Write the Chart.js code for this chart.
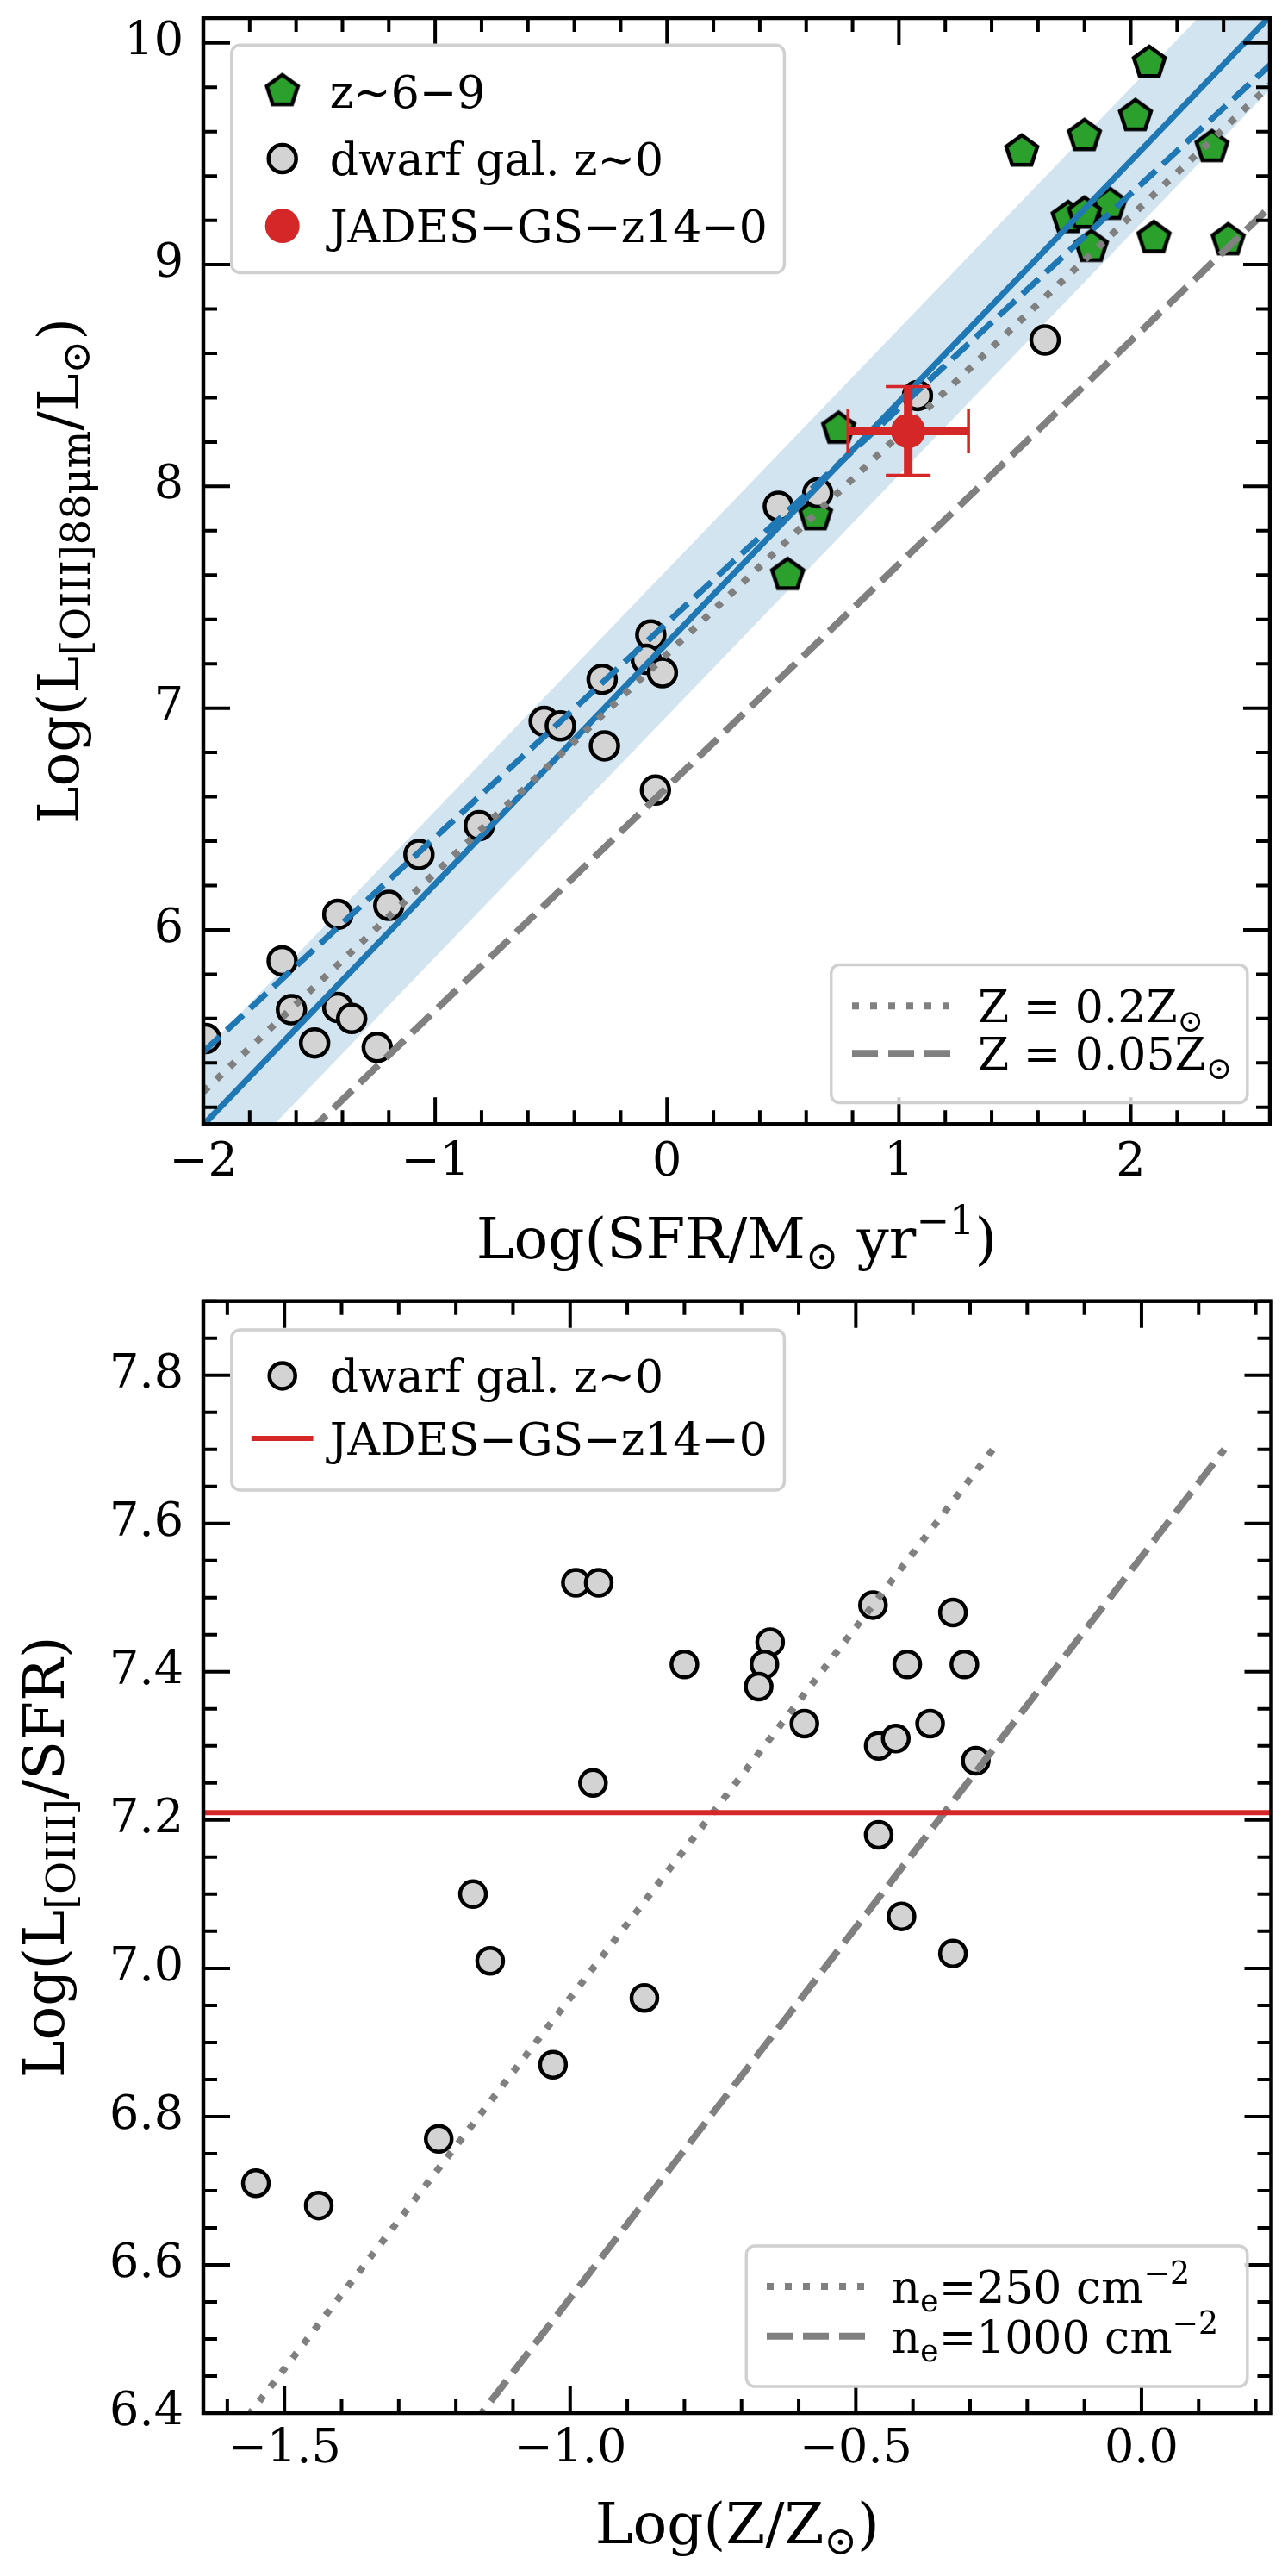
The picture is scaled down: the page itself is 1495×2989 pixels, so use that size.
<!DOCTYPE html>
<html>
<head>
<meta charset="utf-8">
<script src="https://cdn.jsdelivr.net/npm/chart.js@4.4.1/dist/chart.umd.min.js"></script>
<style>
  html, body { margin: 0; padding: 0; background: #fff; }
  #wrap { position: relative; width: 1495px; height: 2989px; }
  canvas { position: absolute; left: 0; }
</style>
</head>
<body>
<div id="wrap">
  <canvas id="top" width="1495" height="1480" style="top:0"></canvas>
  <canvas id="bot" width="1495" height="1509" style="top:1480px"></canvas>
</div>
<script>
// ---- top panel: L[OIII]88 vs SFR ----
const dwarfSfr   = [-1.99, -1.66, -1.62, -1.42, -1.52, -1.42, -1.36, -1.25, -1.20, -1.07, -0.81, -0.53, -0.46, -0.28, -0.27, -0.07, -0.09, -0.02, -0.05, 0.48, 0.65, 1.08, 1.63];
const dwarfLoiii = [5.51, 5.86, 5.64, 6.07, 5.49, 5.65, 5.60, 5.47, 6.11, 6.34, 6.47, 6.94, 6.92, 7.13, 6.83, 7.33, 7.22, 7.16, 6.63, 7.91, 7.97, 8.41, 8.66];
const hizSfr   = [2.08, 2.02, 1.80, 1.53, 2.35, 1.91, 1.73, 1.80, 1.83, 2.10, 2.42, 0.74, 0.64, 0.52];
const hizLoiii = [9.91, 9.67, 9.58, 9.51, 9.53, 9.27, 9.21, 9.23, 9.08, 9.12, 9.11, 8.26, 7.87, 7.60];
const jadesSfr = [1.04];
const jadesLoiii = [8.25];
const jadesSfrErr = [0.26];
const jadesLoiiiErr = [0.20];

// relations, end points read at the axis edges
const relSfr      = [-2, 2.6];
const fitLoiii    = [5.12, 10.12];
const fitUpper    = [5.45, 10.45];
const fitLower    = [4.79, 9.79];
const hizFitLoiii = [5.45, 9.90];
const z02Loiii    = [5.27, 9.81];
const z005Loiii   = [4.63, 9.26];

const sfrTicks   = [-2, -1, 0, 1, 2];
const loiiiTicks = [6, 7, 8, 9, 10];

// ---- bottom panel: L[OIII]/SFR vs Z ----
const dwarfZ     = [-0.99, -0.95, -0.96, -1.17, -1.14, -1.55, -1.44, -1.23, -1.03, -0.87, -0.42, -0.33, -0.80, -0.65, -0.66, -0.67, -0.59, -0.47, -0.33, -0.41, -0.31, -0.37, -0.46, -0.43, -0.29, -0.46];
const dwarfRatio = [7.52, 7.52, 7.25, 7.10, 7.01, 6.71, 6.68, 6.77, 6.87, 6.96, 7.07, 7.02, 7.41, 7.44, 7.41, 7.38, 7.33, 7.49, 7.48, 7.41, 7.41, 7.33, 7.30, 7.31, 7.28, 7.18];
const jadesRatio = [7.21, 7.21];
const jadesZspan = [-1.7, 0.3];
const ne250Z      = [-1.66, -0.26];
const ne250Ratio  = [6.30, 7.70];
const ne1000Z     = [-1.255, 0.145];
const ne1000Ratio = [6.30, 7.70];

const zTicks     = [-1.5, -1.0, -0.5, 0.0];
const ratioTicks = [6.4, 6.6, 6.8, 7.0, 7.2, 7.4, 7.6, 7.8];

const FAMILY = "'DejaVu Serif', serif";
const BLUE = '#1f77b4', GREEN = '#2ca02c', RED = '#d62728', GRAY = '#808080', LGRAY = '#d3d3d3';

const pts = (xs, ys) => xs.map((x, i) => ({ x, y: ys[i] }));
const minus = (v, d) => (v < -1e-9 ? '\u2212' : '') + Math.abs(v).toFixed(d);

function makePentagon() {
  const c = document.createElement('canvas');
  c.width = 48; c.height = 48;
  const g = c.getContext('2d');
  g.beginPath();
  for (let i = 0; i < 5; i++) {
    const a = -Math.PI / 2 + i * 2 * Math.PI / 5;
    const px = 24 + 19 * Math.cos(a), py = 24 + 19 * Math.sin(a);
    if (i) g.lineTo(px, py); else g.moveTo(px, py);
  }
  g.closePath();
  g.fillStyle = GREEN; g.fill();
  g.lineWidth = 4.5; g.strokeStyle = '#000'; g.stroke();
  return c;
}
const pentagon = makePentagon();

function drawRich(ctx, parts, x, y, size, weight, align) {
  const fontOf = p => `${weight} ${(p.sub || p.sup) ? size * 0.7 : size}px ${FAMILY}`;
  let w = 0;
  parts.forEach(p => { ctx.font = fontOf(p); w += ctx.measureText(p.t).width; });
  let cx = align === 'center' ? x - w / 2 : x;
  ctx.textAlign = 'left';
  ctx.textBaseline = 'alphabetic';
  parts.forEach(p => {
    ctx.font = fontOf(p);
    const dy = p.sub ? size * 0.2 : p.sup ? -size * 0.42 : 0;
    ctx.fillText(p.t, cx, y + dy);
    cx += ctx.measureText(p.t).width;
  });
}

// error bars under the marker
const errorBars = {
  id: 'errorBars',
  beforeDatasetDraw(chart, args) {
    const ds = chart.data.datasets[args.index];
    if (!ds.xErr) return;
    const { ctx, scales: { x, y } } = chart;
    ctx.save();
    ctx.strokeStyle = ds.backgroundColor;
    ds.data.forEach((p, i) => {
      const px = x.getPixelForValue(p.x), py = y.getPixelForValue(p.y);
      const x0 = x.getPixelForValue(p.x - ds.xErr[i]), x1 = x.getPixelForValue(p.x + ds.xErr[i]);
      const y0 = y.getPixelForValue(p.y - ds.yErr[i]), y1 = y.getPixelForValue(p.y + ds.yErr[i]);
      ctx.lineWidth = 10;
      ctx.beginPath();
      ctx.moveTo(x0, py); ctx.lineTo(x1, py);
      ctx.moveTo(px, y0); ctx.lineTo(px, y1);
      ctx.stroke();
      ctx.lineWidth = 3.5;
      ctx.beginPath();
      ctx.moveTo(x0, py - 26); ctx.lineTo(x0, py + 26);
      ctx.moveTo(x1, py - 26); ctx.lineTo(x1, py + 26);
      ctx.moveTo(px - 26, y0); ctx.lineTo(px + 26, y0);
      ctx.moveTo(px - 26, y1); ctx.lineTo(px + 26, y1);
      ctx.stroke();
    });
    ctx.restore();
  }
};

// box frame with inward ticks on all four sides
const frameTicks = {
  id: 'frameTicks',
  afterDraw(chart, args, o) {
    const { ctx, chartArea: a, scales: { x, y } } = chart;
    ctx.save();
    ctx.strokeStyle = '#000';
    ctx.lineWidth = 4;
    const each = (sc, step, fn) => {
      const i0 = Math.ceil(sc.min / step - 1e-6), i1 = Math.floor(sc.max / step + 1e-6);
      for (let i = i0; i <= i1; i++) fn(sc.getPixelForValue(i * step));
    };
    ctx.beginPath();
    [[o.xMinor, 16], [o.xMajor, 31]].forEach(([st, len]) => each(x, st, px => {
      ctx.moveTo(px, a.bottom); ctx.lineTo(px, a.bottom - len);
      ctx.moveTo(px, a.top); ctx.lineTo(px, a.top + len);
    }));
    [[o.yMinor, 16], [o.yMajor, 31]].forEach(([st, len]) => each(y, st, py => {
      ctx.moveTo(a.left, py); ctx.lineTo(a.left + len, py);
      ctx.moveTo(a.right, py); ctx.lineTo(a.right - len, py);
    }));
    ctx.stroke();
    ctx.lineWidth = 4.5;
    ctx.strokeRect(a.left, a.top, a.right - a.left, a.bottom - a.top);
    ctx.restore();
  }
};

const titles = {
  id: 'titles',
  afterDraw(chart, args, o) {
    const { ctx, chartArea: a } = chart;
    ctx.save();
    ctx.fillStyle = '#000';
    drawRich(ctx, o.x, (a.left + a.right) / 2, o.xBase, 66, 'normal', 'center');
    ctx.translate(o.yBase, (a.top + a.bottom) / 2);
    ctx.rotate(-Math.PI / 2);
    drawRich(ctx, o.y, 0, 0, 66, 'normal', 'center');
    ctx.restore();
  }
};

const boxLegend = {
  id: 'boxLegend',
  afterDraw(chart, args, o) {
    const { ctx, chartArea: a } = chart;
    o.boxes.forEach(L => {
      ctx.save();
      ctx.beginPath();
      ctx.roundRect(a.left + L.x, a.top + L.y, L.w, L.h, 10);
      ctx.fillStyle = 'rgba(255,255,255,0.8)';
      ctx.fill();
      ctx.lineWidth = 3.5;
      ctx.strokeStyle = '#d0d0d0';
      ctx.stroke();
      L.items.forEach(it => {
        const ds = chart.data.datasets[it.ds];
        const ry = a.top + it.y;
        if (it.kind === 'line') {
          ctx.beginPath();
          ctx.setLineDash(ds.borderDash || []);
          ctx.lineWidth = ds.borderWidth;
          ctx.strokeStyle = ds.borderColor;
          ctx.moveTo(a.left + L.lineX[0], ry);
          ctx.lineTo(a.left + L.lineX[1], ry);
          ctx.stroke();
          ctx.setLineDash([]);
        } else if (ds.pointStyle === pentagon) {
          ctx.drawImage(pentagon, a.left + L.markX - 24, ry - 24);
        } else {
          ctx.beginPath();
          ctx.arc(a.left + L.markX, ry, ds.pointRadius, 0, Math.PI * 2);
          ctx.fillStyle = ds.backgroundColor;
          ctx.fill();
          if (ds.borderWidth) {
            ctx.lineWidth = ds.borderWidth;
            ctx.strokeStyle = ds.borderColor;
            ctx.stroke();
          }
        }
        ctx.fillStyle = '#000';
        drawRich(ctx, it.label, a.left + L.textX, ry + 19, 52, 'normal', 'left');
      });
      ctx.restore();
    });
  }
};

function axis(min, max, ticks, dec, pad, fitSize, horizontal) {
  return {
    type: 'linear', min, max,
    afterBuildTicks: s => { s.ticks = ticks.map(v => ({ value: v })); },
    afterFit: s => {
      if (horizontal) { s.height = fitSize; s.paddingLeft = 0; s.paddingRight = 0; }
      else { s.width = fitSize; s.paddingTop = 0; s.paddingBottom = 0; }
    },
    grid: { display: false, drawTicks: false, tickLength: 0 },
    border: { display: false },
    ticks: {
      autoSkip: false, maxRotation: 0, padding: pad, color: '#000',
      font: { family: FAMILY, size: 54 },
      callback: v => minus(v, dec)
    }
  };
}

// ---------- top chart ----------
new Chart(document.getElementById('top'), {
  type: 'scatter',
  data: {
    datasets: [
      { type: 'line', data: pts(relSfr, fitLower), borderWidth: 0, pointRadius: 0, fill: false, clip: 0, order: 10 },
      { type: 'line', data: pts(relSfr, fitUpper), borderWidth: 0, pointRadius: 0, fill: '-1',
        backgroundColor: 'rgba(31,119,180,0.2)', clip: 0, order: 9 },
      { label: 'dwarf gal. z\u223C0', data: pts(dwarfSfr, dwarfLoiii), pointStyle: 'circle', pointRadius: 16,
        backgroundColor: LGRAY, borderColor: '#000', borderWidth: 4.5, clip: 0, order: 5 },
      { label: 'z\u223C6\u22129', data: pts(hizSfr, hizLoiii), pointStyle: pentagon, pointRadius: 20, clip: 0, order: 6 },
      { type: 'line', data: pts(relSfr, fitLoiii), borderColor: BLUE, borderWidth: 7, pointRadius: 0, fill: false, clip: 0, order: 4 },
      { type: 'line', data: pts(relSfr, hizFitLoiii), borderColor: BLUE, borderWidth: 7, borderDash: [26, 11], pointRadius: 0, fill: false, clip: 0, order: 3 },
      { type: 'line', data: pts(relSfr, z02Loiii), borderColor: GRAY, borderWidth: 8, borderDash: [8, 13], pointRadius: 0, fill: false, clip: 0, order: 2 },
      { type: 'line', data: pts(relSfr, z005Loiii), borderColor: GRAY, borderWidth: 8, borderDash: [30, 12], pointRadius: 0, fill: false, clip: 0, order: 1 },
      { label: 'JADES-GS-z14-0', data: pts(jadesSfr, jadesLoiii), xErr: jadesSfrErr, yErr: jadesLoiiiErr,
        pointStyle: 'circle', pointRadius: 20, backgroundColor: RED, borderWidth: 0, clip: 0, order: 0 }
    ]
  },
  options: {
    responsive: false, animation: false, events: [],
    layout: { padding: { left: 0, right: 17, top: 15.6, bottom: 0 } },
    scales: {
      x: axis(-2, 2.6, sfrTicks, 0, 13, 175.7, true),
      y: axis(5.124, 10.112, loiiiTicks, 0, 23, 236, false)
    },
    plugins: {
      legend: { display: false }, tooltip: { enabled: false },
      frameTicks: { xMajor: 1, xMinor: 0.2, yMajor: 1, yMinor: 0.2 },
      titles: {
        x: [{ t: 'Log(SFR/M' }, { t: '\u2299', sub: true }, { t: ' yr' }, { t: '\u22121', sup: true }, { t: ')' }],
        xBase: 1460,
        y: [{ t: 'Log(L' }, { t: '[OIII]88\u03BCm', sub: true }, { t: '/L' }, { t: '\u2299', sub: true }, { t: ')' }],
        yBase: 91
      },
      boxLegend: {
        boxes: [
          { x: 32.7, y: 31.3, w: 641.7, h: 264.1, markX: 91.7, textX: 146.7,
            items: [
              { ds: 3, y: 84.8, label: [{ t: 'z\u223C6\u22129' }] },
              { ds: 2, y: 163.0, label: [{ t: 'dwarf gal. z\u223C0' }] },
              { ds: 8, y: 241.1, label: [{ t: 'JADES\u2212GS\u2212z14\u22120' }] }
            ] },
          { x: 728.7, y: 1098.4, w: 483.1, h: 160.2, lineX: [753, 877], textX: 899,
            items: [
              { ds: 6, kind: 'line', y: 1146.2, label: [{ t: 'Z = 0.2Z' }, { t: '\u2299', sub: true }] },
              { ds: 7, kind: 'line', y: 1201.2, label: [{ t: 'Z = 0.05Z' }, { t: '\u2299', sub: true }] }
            ] }
        ]
      }
    }
  },
  plugins: [errorBars, frameTicks, titles, boxLegend]
});

// ---------- bottom chart ----------
new Chart(document.getElementById('bot'), {
  type: 'scatter',
  data: {
    datasets: [
      { label: 'dwarf gal. z\u223C0', data: pts(dwarfZ, dwarfRatio), pointStyle: 'circle', pointRadius: 15,
        backgroundColor: LGRAY, borderColor: '#000', borderWidth: 4.5, clip: 0, order: 3 },
      { label: 'JADES-GS-z14-0', type: 'line', data: pts(jadesZspan, jadesRatio), borderColor: RED, borderWidth: 6,
        pointRadius: 0, fill: false, clip: 0, order: 0 },
      { type: 'line', data: pts(ne250Z, ne250Ratio), borderColor: GRAY, borderWidth: 8, borderDash: [8, 13],
        pointRadius: 0, fill: false, clip: 0, order: 2 },
      { type: 'line', data: pts(ne1000Z, ne1000Ratio), borderColor: GRAY, borderWidth: 8, borderDash: [30, 12],
        pointRadius: 0, fill: false, clip: 0, order: 1 }
    ]
  },
  options: {
    responsive: false, animation: false, events: [],
    layout: { padding: { left: 0, right: 17, top: 29.7, bottom: 0 } },
    scales: {
      x: axis(-1.642, 0.227, zTicks, 1, 11, 189, true),
      y: axis(6.4, 7.9, ratioTicks, 1, 23, 236, false)
    },
    plugins: {
      legend: { display: false }, tooltip: { enabled: false },
      frameTicks: { xMajor: 0.5, xMinor: 0.1, yMajor: 0.2, yMinor: 0.05 },
      titles: {
        x: [{ t: 'Log(Z/Z' }, { t: '\u2299', sub: true }, { t: ')' }],
        xBase: 1471,
        y: [{ t: 'Log(L' }, { t: '[OIII]', sub: true }, { t: '/SFR)' }],
        yBase: 74
      },
      boxLegend: {
        boxes: [
          { x: 32.8, y: 33.2, w: 641.6, h: 186.1, markX: 91.7, lineX: [55.8, 127.5], textX: 146.7,
            items: [
              { ds: 0, y: 86.7, label: [{ t: 'dwarf gal. z\u223C0' }] },
              { ds: 1, kind: 'line', y: 159.2, label: [{ t: 'JADES\u2212GS\u2212z14\u22120' }] }
            ] },
          { x: 630.3, y: 1096.2, w: 581.5, h: 163.2, lineX: [654, 778], textX: 798.6,
            items: [
              { ds: 2, kind: 'line', y: 1143.3, label: [{ t: 'n' }, { t: 'e', sub: true }, { t: '=250 cm' }, { t: '\u22122', sup: true }] },
              { ds: 3, kind: 'line', y: 1201.1, label: [{ t: 'n' }, { t: 'e', sub: true }, { t: '=1000 cm' }, { t: '\u22122', sup: true }] }
            ] }
        ]
      }
    }
  },
  plugins: [frameTicks, titles, boxLegend]
});
</script>
</body>
</html>
